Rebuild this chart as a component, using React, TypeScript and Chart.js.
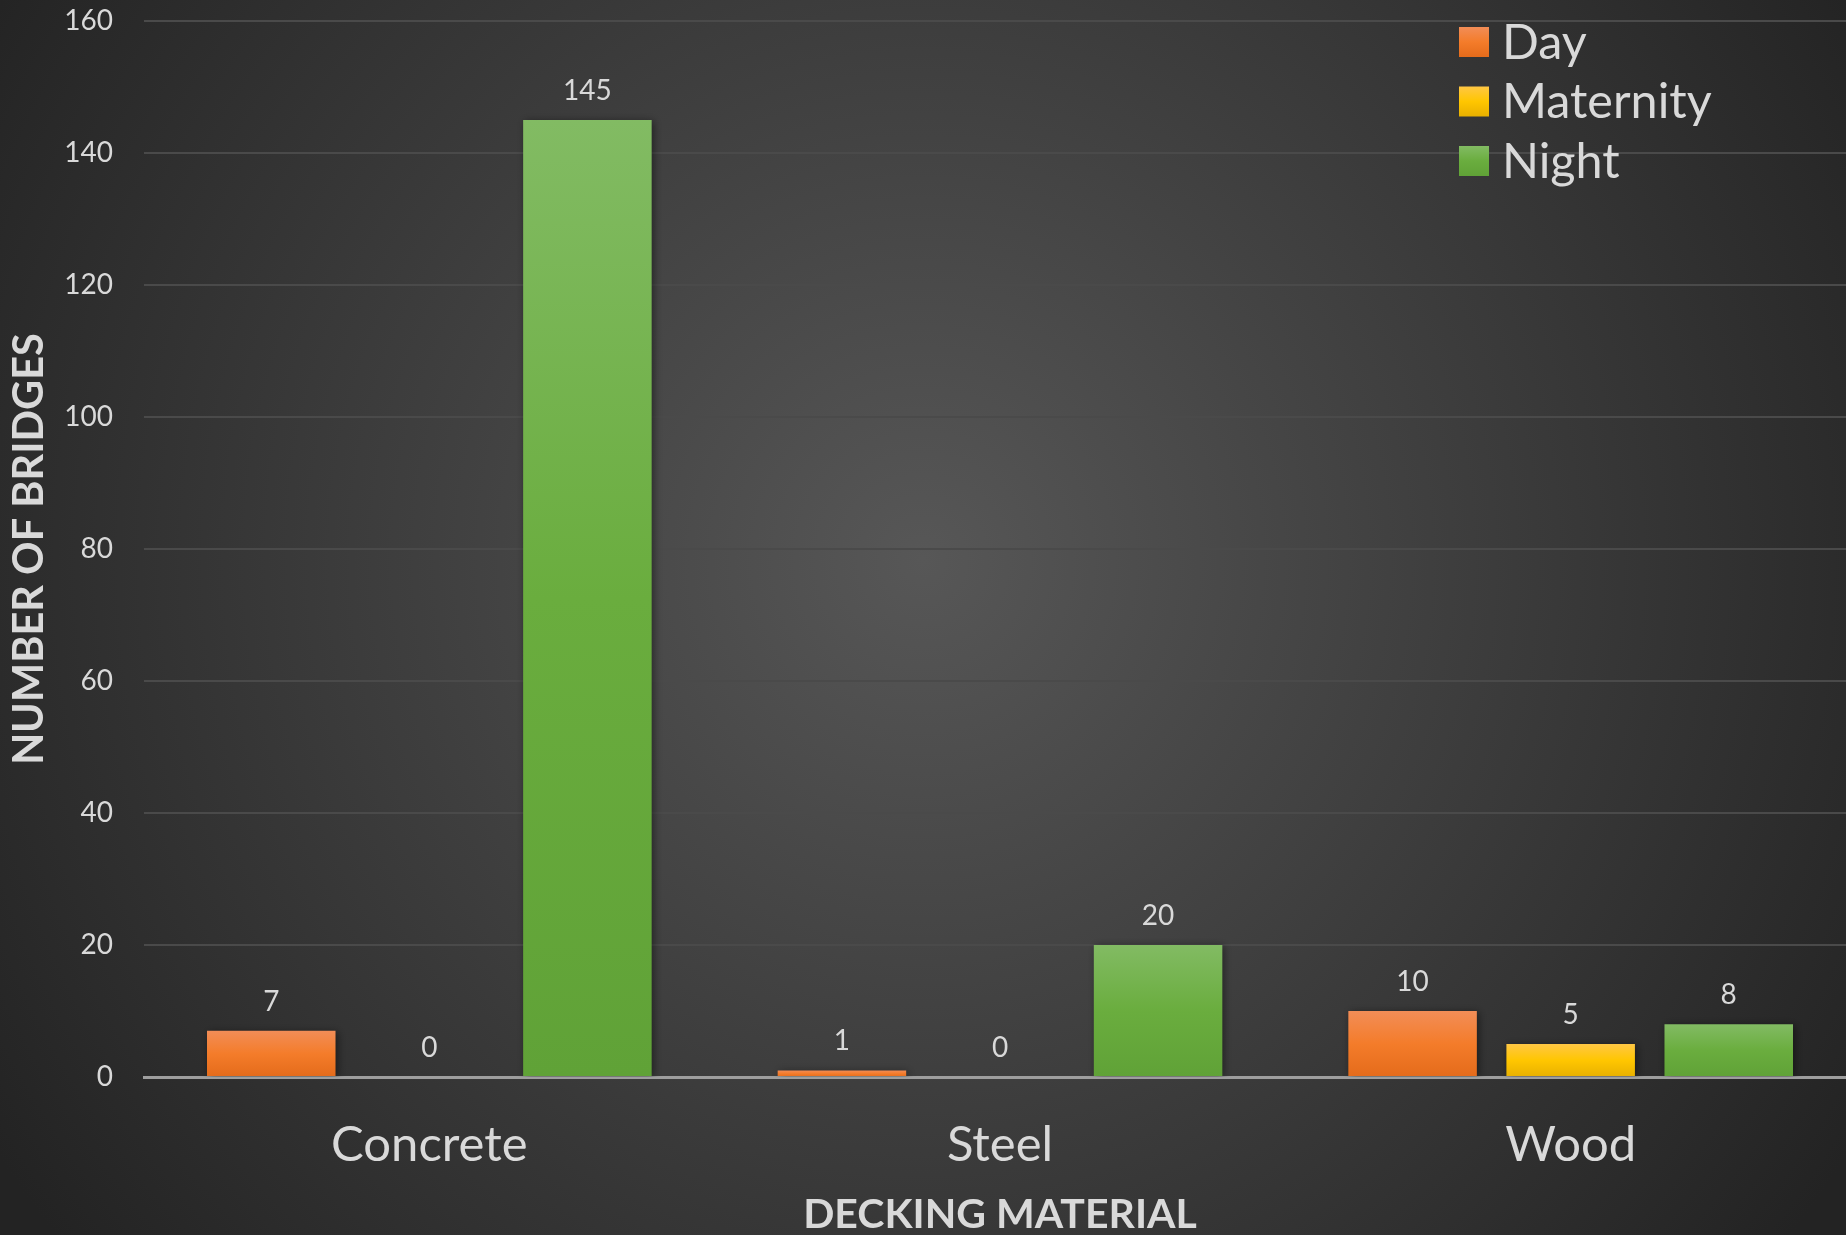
import React, { useEffect, useRef } from "react";
import { Chart, registerables } from "chart.js";

Chart.register(...registerables);

// ---- data ----
const categories = ["Concrete", "Steel", "Wood"];
const seriesNames = ["Day", "Maternity", "Night"];
const dayValues = [7, 1, 10];
const maternityValues = [0, 0, 5];
const nightValues = [145, 20, 8];
const yTickValues = [0, 20, 40, 60, 80, 100, 120, 140, 160];
const xAxisTitle = "DECKING MATERIAL";
const yAxisTitle = "NUMBER OF BRIDGES";

// ---- styles ----
const palettes: string[][] = [
  ["#f28d57", "#f47c2a", "#e46b1b"],
  ["#ffc744", "#ffc600", "#e8b000"],
  ["#82bb63", "#6aad3e", "#60a237"],
];
const TEXT = "#d9d9d9";
const FONT = "Lato, 'Open Sans', sans-serif";

function makeGradient(ctx: CanvasRenderingContext2D, top: number, bottom: number, pal: string[]) {
  if (!isFinite(top) || !isFinite(bottom) || bottom - top < 1) return pal[1];
  const g = ctx.createLinearGradient(0, top, 0, bottom);
  g.addColorStop(0, pal[0]);
  g.addColorStop(0.5, pal[1]);
  g.addColorStop(1, pal[2]);
  return g;
}

const backgroundPlugin = {
  id: "bgGradient",
  beforeDraw(chart: any) {
    const { ctx, width, height } = chart;
    ctx.save();
    const cx = 923;
    const cy = 560;
    const g = ctx.createRadialGradient(cx, cy, 0, cx, cy, 1100);
    g.addColorStop(0, "#575757");
    g.addColorStop(1, "#232323");
    ctx.fillStyle = g;
    ctx.fillRect(0, 0, width, height);
    ctx.restore();
  },
};

const barDecorPlugin = {
  id: "barDecor",
  beforeDatasetsDraw(chart: any) {
    const ctx = chart.ctx;
    ctx.save();
    ctx.shadowColor = "rgba(0,0,0,0.45)";
    ctx.shadowBlur = 8;
    ctx.shadowOffsetX = 2;
    ctx.shadowOffsetY = 1;
  },
  afterDatasetsDraw(chart: any) {
    const ctx = chart.ctx;
    ctx.restore();
    ctx.save();
    ctx.fillStyle = TEXT;
    ctx.font = `28px ${FONT}`;
    ctx.textAlign = "center";
    ctx.textBaseline = "alphabetic";
    chart.data.datasets.forEach((ds: any, i: number) => {
      const meta = chart.getDatasetMeta(i);
      meta.data.forEach((bar: any, j: number) => {
        ctx.fillText(String(ds.data[j]), bar.x, bar.y - 20);
      });
    });
    ctx.restore();
  },
};

const legendPlugin = {
  id: "customLegend",
  afterDraw(chart: any) {
    const ctx = chart.ctx;
    const area = chart.chartArea;
    const box = 30;
    const x = area.right - 397;
    const y0 = area.top + 21;
    const step = 59.5;
    ctx.save();
    chart.data.datasets.forEach((ds: any, i: number) => {
      const cy = y0 + i * step;
      ctx.fillStyle = makeGradient(ctx, cy - box / 2, cy + box / 2, palettes[i]);
      ctx.fillRect(x, cy - box / 2, box, box);
      ctx.fillStyle = TEXT;
      ctx.font = `48.5px ${FONT}`;
      ctx.textAlign = "left";
      ctx.textBaseline = "alphabetic";
      ctx.fillText(ds.label, x + box + 13, cy + 16.5);
    });
    ctx.restore();
  },
};

export default function App() {
  const canvasRef = useRef<HTMLCanvasElement | null>(null);

  useEffect(() => {
    let chart: Chart | null = null;
    let cancelled = false;
    const build = () => {
      if (cancelled || !canvasRef.current) return;
      const seriesValues = [dayValues, maternityValues, nightValues];
      const datasets = seriesNames.map((name, i) => ({
        label: name,
        data: seriesValues[i],
        categoryPercentage: 0.831,
        barPercentage: 0.813,
        borderWidth: 0,
        backgroundColor: (c: any) => {
          const pal = palettes[i];
          const ys = c.chart.scales && c.chart.scales.y;
          if (!ys || typeof c.raw !== "number") return pal[1];
          const top = ys.getPixelForValue(c.raw);
          const base = ys.getPixelForValue(0);
          return makeGradient(c.chart.ctx, top, base, pal);
        },
      }));
      chart = new Chart(canvasRef.current, {
        type: "bar",
        data: { labels: categories, datasets },
        options: {
          responsive: false,
          animation: false,
          devicePixelRatio: 1,
          layout: { padding: { left: 0, right: 0, top: 21, bottom: 0 } },
          plugins: {
            legend: { display: false },
            tooltip: { enabled: false },
          },
          scales: {
            x: {
              grid: { display: false, drawTicks: false },
              border: { display: true, color: "#9e9e9e", width: 3 },
              ticks: {
                color: TEXT,
                font: { family: FONT, size: 49 },
                padding: 39,
              },
              title: {
                display: true,
                text: xAxisTitle,
                color: TEXT,
                font: { family: FONT, size: 41, weight: "bold", lineHeight: 1 },
                padding: { top: 0, bottom: 0 },
              },
              afterFit: (s: any) => {
                s.height = 158;
                s.paddingLeft = 0;
                s.paddingRight = 0;
              },
            },
            y: {
              min: yTickValues[0],
              max: yTickValues[yTickValues.length - 1],
              afterBuildTicks: (s: any) => {
                s.ticks = yTickValues.map((v) => ({ value: v }));
              },
              grid: { color: "#4a4a4a", lineWidth: 2, drawTicks: false },
              border: { display: false },
              ticks: {
                color: TEXT,
                font: { family: FONT, size: 28 },
                padding: 31,
              },
              title: {
                display: true,
                text: yAxisTitle,
                color: TEXT,
                font: { family: FONT, size: 41.5, weight: "bold", lineHeight: 1 },
                padding: { top: 9, bottom: 0 },
              },
              afterFit: (s: any) => {
                s.width = 144;
                s.paddingTop = 0;
                s.paddingBottom = 0;
              },
            },
          },
        },
        plugins: [backgroundPlugin, barDecorPlugin, legendPlugin],
      });
    };
    const fontsReady = (document as any).fonts
      ? Promise.all([
          (document as any).fonts.load(`28px Lato`),
          (document as any).fonts.load(`bold 41px Lato`),
        ]).catch(() => null)
      : Promise.resolve();
    fontsReady.then(build);
    return () => {
      cancelled = true;
      if (chart) chart.destroy();
    };
  }, []);

  return (
    <div
      style={{
        position: "fixed",
        left: 0,
        top: 0,
        width: 1846,
        height: 1235,
        overflow: "hidden",
        background: "#2b2b2b",
      }}
    >
      <canvas ref={canvasRef} width={1856} height={1235} style={{ display: "block" }} />
    </div>
  );
}
